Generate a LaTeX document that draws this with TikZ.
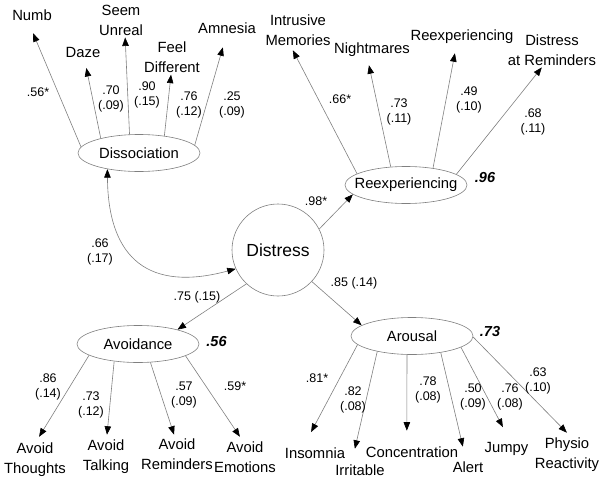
\documentclass[tikz,border=0pt]{standalone}
\usepackage{fontspec}
\setmainfont{Liberation Sans}
\usepackage{xcolor}
\usepackage{tikz}
\usetikzlibrary{arrows.meta,shapes.geometric}
\definecolor{bg}{HTML}{FFFFFF}
\definecolor{text}{HTML}{000000}
\definecolor{edge}{HTML}{808080}
\newcommand\itemsize{\fontsize{14.8}{20}\selectfont}
\newcommand\coefsize{\fontsize{12.5}{15}\selectfont}
\newcommand\distsize{\fontsize{17.5}{20}\selectfont}
\newcommand\rsqsize{\fontsize{14.5}{16}\selectfont}
\tikzset{
  >={Triangle[length=8.5pt,width=6.5pt,color=text]},
  factor/.style={circle, draw=edge, line width=0.6pt, minimum size=92pt, inner sep=0pt, font=\distsize, text=text},
  latent/.style={ellipse, draw=edge, line width=0.6pt, minimum width=122pt, minimum height=37pt, inner sep=0pt,
    label={[font=\itemsize, text=text]center:#1}},
  item/.style={font=\itemsize, text=text, align=center, inner sep=1pt},
  coef/.style={font=\coefsize, text=text, align=center, inner sep=1pt},
  rsq/.style={font=\rsqsize\bfseries\itshape, text=text, inner sep=1pt},
  load/.style={draw=edge, line width=0.6pt, ->, shorten >=#1},
  load/.default=0pt,
  cov/.style={draw=edge, line width=0.6pt, <->}
}
\begin{document}
\begin{tikzpicture}[x=1pt, y=-1pt]
  \useasboundingbox[fill=bg] (0,0) rectangle (603,480);

  \node[factor] (dist) at (278,250) {Distress};
  \node[latent=Dissociation] (diss) at (139,153) {};
  \node[latent=Reexperiencing] (reexp) at (406,185) {};
  \node[latent=Avoidance] (avoid) at (138,344) {};
  \node[latent=Arousal] (arous) at (412,336) {};

  \node[rsq] (r2reexp) at (485,178) {.96};
  \node[rsq] (r2avoid) at (216.5,341.7) {.56};
  \node[rsq] (r2arous) at (490,331.7) {.73};

  % indicators
  \node[item] (numb) at (32,15) {Numb};
  \node[item] (daze) at (83,52) {Daze};
  \node[item] (seem) at (121,20) {Seem\\Unreal};
  \node[item] (feel) at (172,57) {Feel\\Different};
  \node[item] (amn) at (227,28) {Amnesia};
  \node[item] (intr) at (298,30) {Intrusive\\Memories};
  \node[item] (night) at (372,49.5) {Nightmares};
  \node[item] (reex) at (462,36.5) {Reexperiencing};
  \node[item] (remd) at (552,50) {Distress\\at Reminders};
  \node[item] (avth) at (35,459.5) {Avoid\\Thoughts};
  \node[item] (avta) at (106,456.5) {Avoid\\Talking};
  \node[item] (avre) at (177,454) {Avoid\\Reminders};
  \node[item] (avem) at (245,457) {Avoid\\Emotions};
  \node[item] (insom) at (315,453) {Insomnia};
  \node[item] (irr) at (360,470) {Irritable};
  \node[item] (conc) at (412,452) {Concentration};
  \node[item] (alert) at (468,467) {Alert};
  \node[item] (jumpy) at (506.5,448.5) {Jumpy};
  \node[item] (physio) at (567,454.5) {Physio\\Reactivity};

  \draw[load=12.6pt] (diss.174)--(numb.240);
  \draw[load=9.8pt] (diss.159)--(daze.282);
  \draw[load=1pt] (diss.117)--(seem.284);
  \draw[load=1pt] (diss.34)--(feel.267);
  \draw[load=13.2pt] (diss.8)--(amn.266);
  \draw[load=4.1pt] (reexp.167)--(intr.247);
  \draw[load=7.8pt] (reexp.130)--(night.240);
  \draw[load=8.8pt] (reexp.32)--(reex.236);
  \draw[load=1pt] (reexp.12)--(remd.240);
  \draw[load=5.4pt] (avoid.193)--(avth.86);
  \draw[load=3.7pt] (avoid.216)--(avta.88);
  \draw[load=2.9pt] (avoid.304)--(avre.97);
  \draw[load=4.4pt] (avoid.346)--(avem.99);
  \draw[load=16.2pt] (arous.189)--(insom.150);
  \draw[load=15pt] (arous.204)--(irr.142);
  \draw[load=14.7pt] (arous.255)--(conc.128);
  \draw[load=14.1pt] (arous.330)--(alert.106);
  \draw[load=15.3pt] (arous.347)--(jumpy.66);
  \draw[load=5.2pt] (arous.359)--(physio.79);

  % structural paths
  \draw[load] (dist.27)--(reexp.190);
  \draw[load] (dist.227)--(avoid.20);
  \draw[load] (dist.317)--(arous.168);
  \draw[cov] (diss.207) .. controls (108,260) and (150,292) .. (dist.204);

  % coefficients
  \node[coef] (cnumb) at (38,92) {.56*};
  \node[coef] (cdaze) at (111,99) {.70\\(.09)};
  \node[coef] (cseem) at (147,95) {.90\\(.15)};
  \node[coef] (cfeel) at (189,105) {.76\\(.12)};
  \node[coef] (camn) at (232,105) {.25\\(.09)};
  \node[coef] (cintr) at (340,99) {.66*};
  \node[coef] (cnight) at (399,112) {.73\\(.11)};
  \node[coef] (creex) at (469,100) {.49\\(.10)};
  \node[coef] (cremd) at (533,122) {.68\\(.11)};
  \node[coef] (creexp) at (316,201) {.98*};
  \node[coef] (ccov) at (100,252) {.66\\(.17)};
  \node[coef] (cavoid) at (197,297) {.75 (.15)};
  \node[coef] (carous) at (354,283) {.85 (.14)};
  \node[coef] (cavth) at (48,387) {.86\\(.14)};
  \node[coef] (cavta) at (91,405) {.73\\(.12)};
  \node[coef] (cavre) at (184,395) {.57\\(.09)};
  \node[coef] (cavem) at (235,386) {.59*};
  \node[coef] (cinsom) at (317,378) {.81*};
  \node[coef] (cirr) at (353,400) {.82\\(.08)};
  \node[coef] (cconc) at (428,390) {.78\\(.08)};
  \node[coef] (calert) at (473,397) {.50\\(.09)};
  \node[coef] (cjumpy) at (510,397) {.76\\(.08)};
  \node[coef] (cphysio) at (538,381) {.63\\(.10)};
\end{tikzpicture}
\end{document}
